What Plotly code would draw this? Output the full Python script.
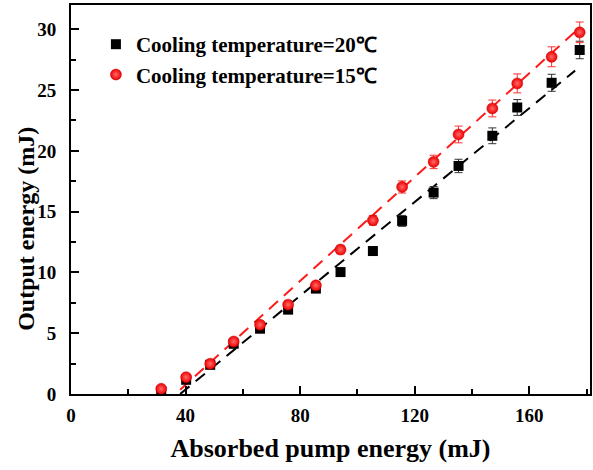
import plotly.graph_objects as go

# Absorbed pump energy (mJ)
x_20 = [31.5, 40.2, 48.6, 56.8, 66.0, 75.8, 85.5, 94.1, 105.4, 115.6, 126.6, 135.3, 147.1, 155.8, 167.8, 177.6]
y_20 = [0.2, 1.17, 2.4, 4.13, 5.37, 6.94, 8.67, 10.03, 11.76, 14.24, 16.57, 18.76, 21.24, 23.57, 25.6, 28.3]
e_20 = [0.1, 0.15, 0.2, 0.2, 0.25, 0.25, 0.3, 0.3, 0.35, 0.45, 0.5, 0.55, 0.65, 0.65, 0.7, 0.72]

x_15 = [31.5, 40.2, 48.6, 56.8, 66.0, 75.8, 85.5, 94.1, 105.4, 115.6, 126.6, 135.3, 147.1, 155.8, 167.8, 177.6]
y_15 = [0.43, 1.38, 2.49, 4.32, 5.70, 7.35, 8.94, 11.88, 14.29, 17.03, 19.09, 21.35, 23.49, 25.55, 27.74, 29.75]
e_15 = [0.1, 0.15, 0.2, 0.2, 0.25, 0.3, 0.3, 0.35, 0.4, 0.5, 0.55, 0.69, 0.69, 0.78, 0.82, 0.85]

# linear fit line end points
fit_x = [38.1, 176.0]
fit_20 = [0.0, 26.6]
fit_15 = [0.35, 29.8]

x_ticks = [0, 40, 80, 120, 160]
y_ticks = [0, 5, 10, 15, 20, 25, 30]

x_title = "Absorbed pump energy (mJ)"
y_title = "Output energy (mJ)"

font_fam = "Times New Roman, Liberation Serif, serif"

fig = go.Figure()

fig.add_trace(go.Scatter(
    x=fit_x, y=fit_20, mode="lines", showlegend=False,
    line=dict(color="black", width=2, dash="12px,8px")))
fig.add_trace(go.Scatter(
    x=fit_x, y=fit_15, mode="lines", showlegend=False,
    line=dict(color="#ff1a1a", width=2, dash="12px,8px")))

fig.add_trace(go.Scatter(
    x=x_20, y=y_20, mode="markers", name="Cooling temperature=20\u2103",
    legendgroup="a",
    marker=dict(symbol="square", size=10, color="black"),
    error_y=dict(type="data", array=e_20, color="#333333", thickness=1, width=4)))
fig.add_trace(go.Scatter(
    x=x_15, y=y_15, mode="markers", name="Cooling temperature=15\u2103",
    legendgroup="b",
    marker=dict(symbol="circle", size=11, color="#f00000",
                gradient=dict(type="radial", color="#ff6a6a"),
                line=dict(color="#c00000", width=0.5)),
    error_y=dict(type="data", array=e_15, color="#ff3030", thickness=1, width=4)))

axis_common = dict(
    showline=True, linecolor="black", linewidth=2, mirror=True,
    ticks="inside", ticklen=8, tickwidth=2, tickcolor="black",
    showgrid=False, zeroline=False,
    tickfont=dict(family=font_fam, size=19, color="black", weight="bold"),
)

fig.update_xaxes(
    range=[0, 181.2], tickvals=x_ticks, ticklabelstandoff=3,
    minor=dict(dtick=20, ticks="inside", ticklen=5, tickwidth=2, tickcolor="black"),
    title=dict(text=x_title, standoff=14,
               font=dict(family=font_fam, size=26, color="black", weight="bold")),
    **axis_common)
fig.update_yaxes(
    range=[0, 32], tickvals=y_ticks, ticklabelstandoff=9,
    minor=dict(dtick=2.5, ticks="inside", ticklen=5, tickwidth=2, tickcolor="black"),
    **axis_common)

fig.add_annotation(
    text=y_title, textangle=-90, showarrow=False,
    xref="paper", yref="paper", x=-0.0864, y=0.425,
    xanchor="center", yanchor="middle",
    font=dict(family=font_fam, size=24, color="black", weight="bold"))

fig.update_layout(
    width=593, height=470,
    margin=dict(l=71, r=1, t=5, b=76),
    plot_bgcolor="white", paper_bgcolor="white",
    legend=dict(x=0.048, y=0.951, xanchor="left", yanchor="top",
                bgcolor="rgba(0,0,0,0)", traceorder="grouped", tracegroupgap=0,
                font=dict(family=font_fam, size=21, color="black", weight="bold")),
    showlegend=True,
)

fig.write_html("out.html")
